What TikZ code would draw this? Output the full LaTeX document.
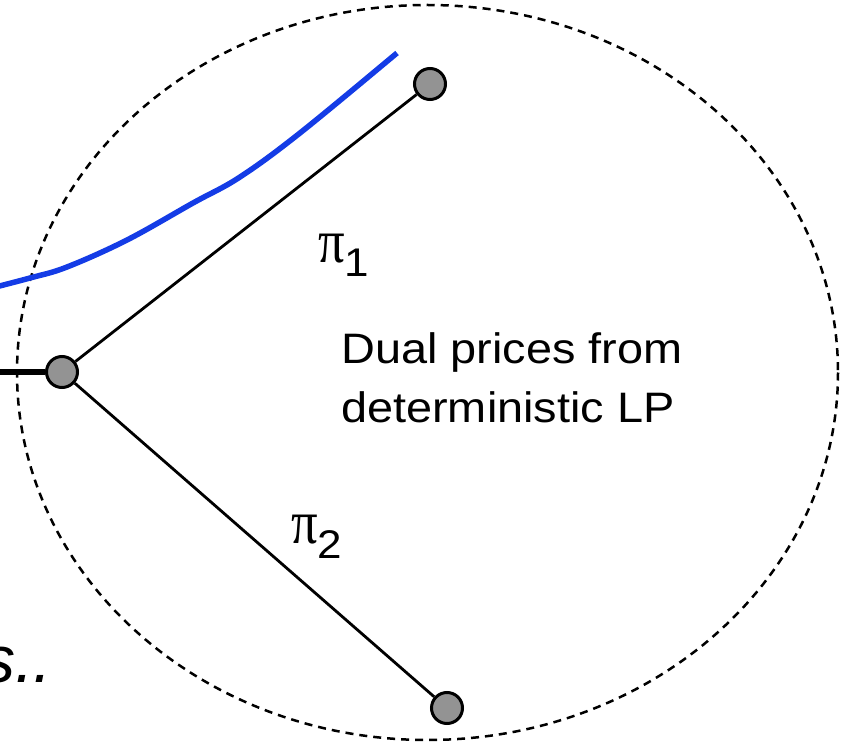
\documentclass[tikz,border=0pt]{standalone}
\usepackage{fontspec}
\setmainfont{Liberation Sans}
\newfontfamily\piserif{Liberation Serif}
\usepackage{graphicx}
\definecolor{curveblue}{RGB}{20,60,230}
\definecolor{nodegray}{RGB}{147,147,147}
\begin{document}
\begin{tikzpicture}[x=1pt,y=-1pt,
  dotnode/.style={circle,draw=black,line width=3pt,fill=nodegray,minimum size=31pt,inner sep=0pt},
  branch/.style={draw=black,line width=2.8pt},
  region/.style={draw=black,line width=2.5pt,dash pattern=on 8pt off 6pt},
  bluecurve/.style={draw=curveblue,line width=5.5pt},
  textlabel/.style={anchor=base west,inner sep=0pt,font=\fontsize{42.6}{59}\selectfont},
  pilabel/.style={anchor=base west,inner sep=0pt}]
\useasboundingbox (0,0) rectangle (846,743);
\clip (0,0) rectangle (846,743);
\draw[region] (427.5,372.5) ellipse [x radius=410.5, y radius=367.5];
\draw[bluecurve] plot[smooth, tension=0.6] coordinates {(-20,291) (30,278) (67,267) (127,240) (193,203) (240,177) (300,133) (397,53)};
\node[dotnode] (root) at (62,372) {};
\node[dotnode] (top) at (430,84) {};
\node[dotnode] (bot) at (447,708) {};
\coordinate (inleft) at (-10,372);
\draw[line width=6.5pt] (inleft) -- (root);
\draw[branch] (root) -- (top);
\draw[branch] (root) -- (bot);
\node[pilabel] (pi1) at (318,263) {{\piserif\fontsize{62}{62}\selectfont\scalebox{0.85}[1]{π}}{\fontsize{40}{40}\selectfont\raisebox{-14pt}{\scalebox{1.1}[1]{1}}}};
\node[pilabel] (pi2) at (291,543) {{\piserif\fontsize{62}{62}\selectfont\scalebox{0.85}[1]{π}}{\fontsize{40}{40}\selectfont\raisebox{-15pt}{\scalebox{1.1}[1]{2}}}};
\node[textlabel] (dual1) at (341,363) {\scalebox{1.1}[1]{Dual prices from}};
\node[textlabel] (dual2) at (341,422) {\scalebox{1.1}[1]{deterministic LP}};
\node[anchor=base east,inner sep=0pt,font=\fontsize{66}{66}\selectfont\itshape] (ss) at (52,682) {s..};
\end{tikzpicture}
\end{document}
